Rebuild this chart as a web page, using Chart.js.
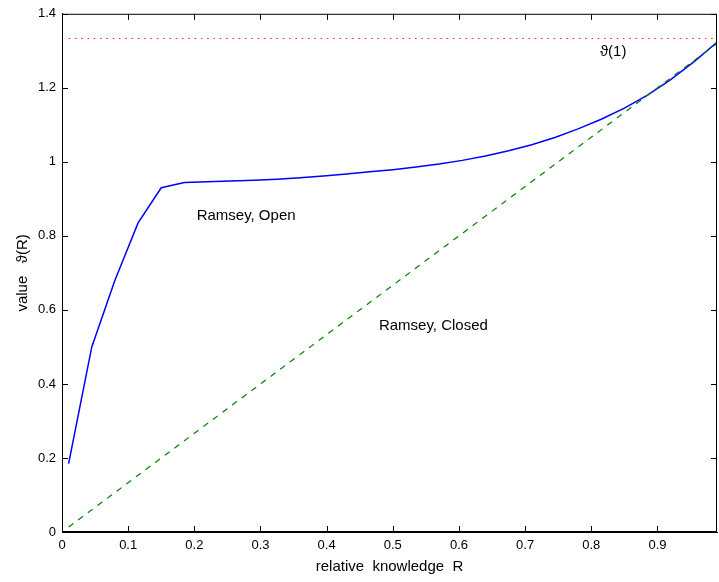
<!DOCTYPE html>
<html>
<head>
<meta charset="utf-8">
<script src="https://cdn.jsdelivr.net/npm/chart.js@4.4.4/dist/chart.umd.min.js"></script>
<style>
  body { margin: 0; background: #fff; }
  #wrap { width: 719px; height: 582px; position: relative; }
</style>
</head>
<body>
<div id="wrap"><canvas id="chart"></canvas></div>
<script>
// relative knowledge R, sampled every 0.035 from 0.01 to 0.99
const rValues = [0.01, 0.045, 0.08, 0.115, 0.15, 0.185, 0.22, 0.255, 0.29, 0.325,
                 0.36, 0.395, 0.43, 0.465, 0.5, 0.535, 0.57, 0.605, 0.64, 0.675,
                 0.71, 0.745, 0.78, 0.815, 0.85, 0.885, 0.92, 0.955, 0.99];
const openValues = [0.185, 0.50, 0.68, 0.835, 0.93, 0.944, 0.946, 0.948, 0.950, 0.953,
                    0.957, 0.962, 0.967, 0.973, 0.979, 0.986, 0.994, 1.004, 1.016, 1.030,
                    1.046, 1.066, 1.089, 1.115, 1.145, 1.180, 1.222, 1.270, 1.323];
const closedR = [0.01, 0.99];
const closedValues = [0.0133, 1.32];
const limitR = [0.01, 0.99];
const limitValues = [1.3333, 1.3333];

const xTicks = [0, 0.1, 0.2, 0.3, 0.4, 0.5, 0.6, 0.7, 0.8, 0.9];
const yTicks = [0, 0.2, 0.4, 0.6, 0.8, 1, 1.2, 1.4];

const notes = [
    { text: 'Ramsey, Open', x: 0.2035, y: 0.855 },
    { text: 'Ramsey, Closed', x: 0.479, y: 0.556 },
    { text: '\u03d1(1)', x: 0.813, y: 1.298 }
];

const FONT = '"Liberation Sans", Arial, Helvetica, sans-serif';

function toPoints(xs, ys) {
    return xs.map((x, i) => ({ x: x, y: ys[i] }));
}

// matlab style box with inward ticks, plus the text labels
const boxPlugin = {
    id: 'box',
    afterDraw(chart) {
        const ctx = chart.ctx;
        const area = chart.chartArea;
        const xs = chart.scales.x;
        const ys = chart.scales.y;
        const len = 6;
        ctx.save();
        ctx.strokeStyle = '#000';
        ctx.lineWidth = 1;
        ctx.strokeRect(area.left + 0.5, area.top + 0.5, area.right - area.left - 1, area.bottom - area.top - 1);
        ctx.beginPath();
        xs.ticks.forEach(t => {
            const px = Math.round(xs.getPixelForValue(t.value)) + 0.5;
            ctx.moveTo(px, area.bottom);
            ctx.lineTo(px, area.bottom - len);
            ctx.moveTo(px, area.top);
            ctx.lineTo(px, area.top + len);
        });
        ys.ticks.forEach(t => {
            const py = Math.round(ys.getPixelForValue(t.value)) + 0.5;
            ctx.moveTo(area.left, py);
            ctx.lineTo(area.left + len, py);
            ctx.moveTo(area.right, py);
            ctx.lineTo(area.right - len, py);
        });
        ctx.stroke();

        ctx.fillStyle = '#000';
        ctx.font = '15px ' + FONT;
        ctx.textAlign = 'left';
        ctx.textBaseline = 'middle';
        notes.forEach(n => {
            ctx.fillText(n.text, xs.getPixelForValue(n.x), ys.getPixelForValue(n.y));
        });
        ctx.restore();
    }
};

new Chart(document.getElementById('chart'), {
    type: 'line',
    data: {
        datasets: [
            {
                label: 'Ramsey, Open',
                data: toPoints(rValues, openValues),
                borderColor: '#0000ff',
                borderWidth: 1.5,
                pointRadius: 0,
                tension: 0,
                order: 1
            },
            {
                label: 'Ramsey, Closed',
                data: toPoints(closedR, closedValues),
                borderColor: '#008000',
                borderWidth: 1.2,
                borderDash: [6, 6],
                pointRadius: 0,
                order: 0
            },
            {
                label: 'limit',
                data: toPoints(limitR, limitValues),
                borderColor: '#ff2020',
                borderWidth: 1,
                borderDash: [1.5, 4.8],
                pointRadius: 0,
                order: 2
            }
        ]
    },
    options: {
        responsive: true,
        maintainAspectRatio: false,
        animation: false,
        layout: { padding: { top: 11, right: 2, left: 0, bottom: 0 } },
        plugins: {
            legend: { display: false },
            tooltip: { enabled: false }
        },
        scales: {
            x: {
                type: 'linear',
                min: 0,
                max: 0.99,
                afterBuildTicks: scale => { scale.ticks = xTicks.map(v => ({ value: v })); },
                afterFit: scale => { scale.height = 50; },
                grid: { display: false, drawTicks: false },
                border: { display: true, color: '#000' },
                ticks: { color: '#000', padding: 6, font: { family: FONT, size: 13 } },
                title: {
                    display: true,
                    text: 'relative  knowledge  R',
                    color: '#000',
                    font: { family: FONT, size: 15 },
                    padding: { top: 0, bottom: 6 }
                }
            },
            y: {
                min: 0,
                max: 1.4,
                afterBuildTicks: scale => { scale.ticks = yTicks.map(v => ({ value: v })); },
                afterFit: scale => { scale.width = 62; },
                grid: { display: false, drawTicks: false },
                border: { display: true, color: '#000' },
                ticks: {
                    color: '#000',
                    padding: 6,
                    font: { family: FONT, size: 13 },
                    callback: v => String(Math.round(v * 10) / 10)
                },
                title: {
                    display: true,
                    text: 'value   \u03d1(R)',
                    color: '#000',
                    font: { family: FONT, size: 15 },
                    padding: { top: 14, bottom: 0 }
                }
            }
        }
    },
    plugins: [boxPlugin]
});
</script>
</body>
</html>
